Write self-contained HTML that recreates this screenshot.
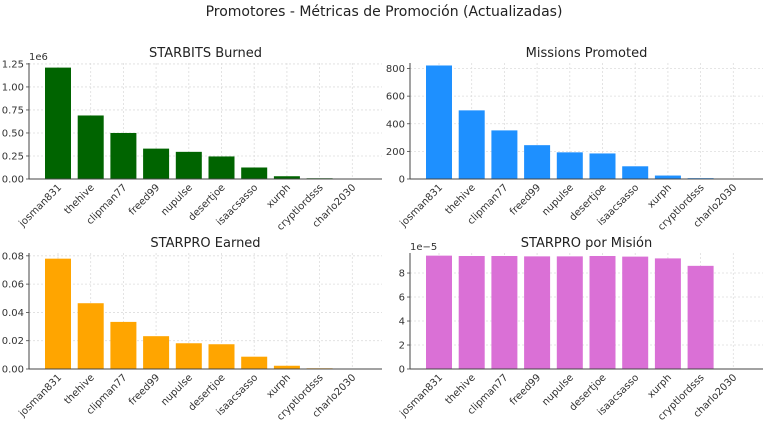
<!DOCTYPE html>
<html><head><meta charset="utf-8"><style>
body{margin:0;background:#fff;}
svg{display:block;font-family:"DejaVu Sans","Liberation Sans",sans-serif;}
</style></head><body>
<svg id="chart" width="768" height="423" viewBox="0 0 768 423">
<text x="384" y="16" text-anchor="middle" font-size="14" fill="#222">Promotores - Métricas de Promoción (Actualizadas)</text>
</svg>
<script>
const categories = ["josman831","thehive","clipman77","freed99","nupulse","desertjoe","isaacsasso","xurph","cryptlordsss","charlo2030"];
const burnedValues = [1.21,0.69,0.50,0.33,0.295,0.245,0.125,0.03,0.008,0];
const missionsValues = [822,497,352,245,193,185,92,25,6,0];
const starproValues = [0.078,0.0465,0.0333,0.0232,0.0182,0.0175,0.0087,0.0023,0.0005,0];
const perMisionValues = [9.45,9.42,9.42,9.39,9.39,9.42,9.37,9.22,8.6,0];
const burnedTicks = ["0.00","0.25","0.50","0.75","1.00","1.25"];
const missionsTicks = ["0","200","400","600","800"];
const starproTicks = ["0.00","0.02","0.04","0.06","0.08"];
const perMisionTicks = ["0","2","4","6","8"];

const NS="http://www.w3.org/2000/svg";
const svg=document.getElementById('chart');
function mk(tag,attrs,parent){const e=document.createElementNS(NS,tag);for(const k in attrs)e.setAttribute(k,attrs[k]);(parent||svg).appendChild(e);return e;}

function panel(o){
  const g=mk('g',{});
  
  
  const L=o.left,R=o.left+353,T=o.top,B=o.top+116;
  const y=v=>B-(v/o.ymax)*(B-T);
  const step=32.7, c0=L+29;
  const x=i=>c0+i*step;
  // grid
  for(let i=0;i<categories.length;i++){
    mk('line',{x1:x(i),x2:x(i),y1:T,y2:B,stroke:'#ddd','stroke-dasharray':'2,2','stroke-width':0.8},g);
  }
  o.ticks.forEach(t=>{
    const v=parseFloat(t)*(o.tickScale||1);
    mk('line',{x1:L,x2:R,y1:y(v),y2:y(v),stroke:'#ddd','stroke-dasharray':'2,2','stroke-width':0.8},g);
    mk('line',{x1:L-3,x2:L,y1:y(v),y2:y(v),stroke:'#444','stroke-width':0.8},g);
    const tl=mk('text',{x:L-5,y:y(v)+3.5,'text-anchor':'end','font-size':10,fill:'#333'},g);
    
    
    tl.textContent=t;
  });
  // bars
  o.values.forEach((v,i)=>{
    const r=mk('rect',{x:x(i)-13,y:y(v),width:26,height:Math.max(0,B-y(v)),fill:o.color},g);
    
    
  });
  // axes
  mk('line',{x1:L,x2:L,y1:T,y2:B,stroke:'#444','stroke-width':1},g);
  mk('line',{x1:L,x2:R,y1:B,y2:B,stroke:'#444','stroke-width':1},g);
  categories.forEach((c,i)=>{
    const tx=x(i)+4, ty=B+9;
    const t=mk('text',{x:tx,y:ty,'text-anchor':'end','font-size':10,fill:'#333',transform:`rotate(-45 ${tx} ${ty})`},g);
    
    
    t.textContent=c;
  });
  const tt=mk('text',{x:(L+R)/2,y:T-6,'text-anchor':'middle','font-size':13,fill:'#222'},g);
  
  
  tt.textContent=o.title;
  if(o.exp){
    const e=mk('text',{x:L,y:T-3,'font-size':10,fill:'#333'},g);
    
    
    e.textContent=o.exp;
  }
}
panel({name:'starbits-burned-panel',title:'STARBITS Burned',left:29,top:63,ymax:1.26,values:burnedValues,ticks:burnedTicks,color:'#006400',exp:'1e6'});
panel({name:'missions-promoted-panel',title:'Missions Promoted',left:410,top:63,ymax:840,values:missionsValues,ticks:missionsTicks,color:'#1e90ff'});
panel({name:'starpro-earned-panel',title:'STARPRO Earned',left:29,top:253,ymax:0.082,values:starproValues,ticks:starproTicks,color:'#ffa500'});
panel({name:'starpro-per-mision-panel',title:'STARPRO por Misión',left:410,top:253,ymax:9.67,values:perMisionValues,ticks:perMisionTicks,color:'#da70d6',exp:'1e−5'});
</script>
</body></html>
